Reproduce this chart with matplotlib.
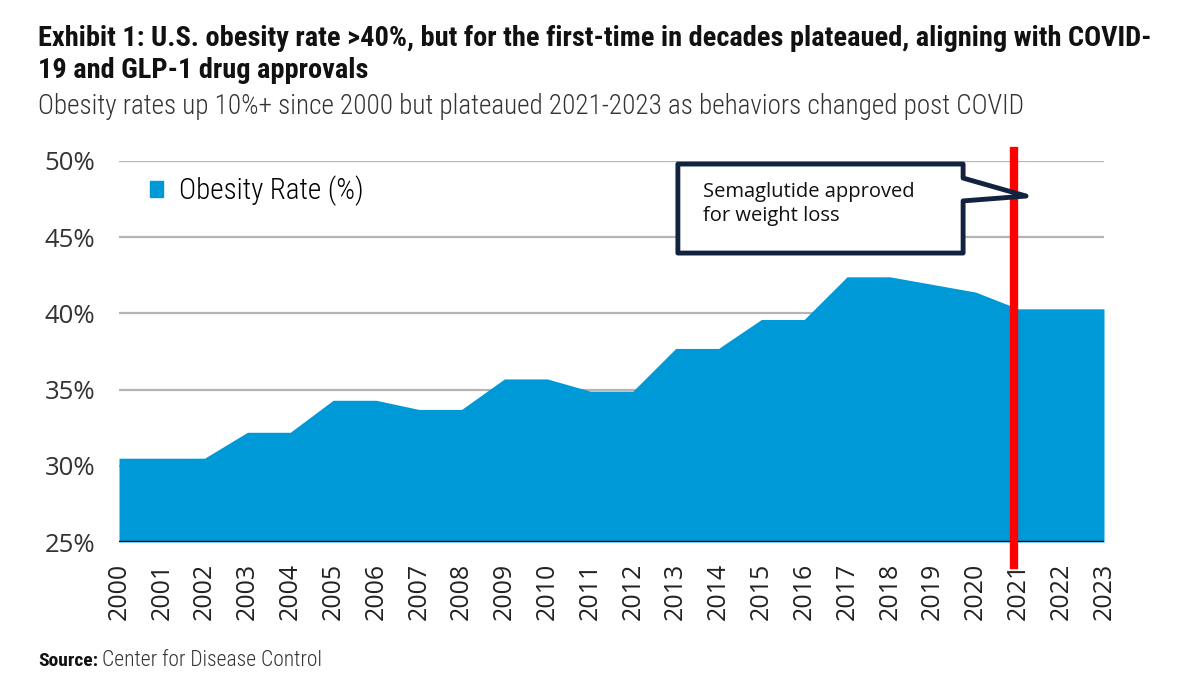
import matplotlib
matplotlib.use("Agg")
import matplotlib.pyplot as plt
from matplotlib import font_manager
from matplotlib.patches import Polygon, Patch

# data
years = list(range(2000, 2024))
obesity_rate = [30.5, 30.5, 30.5, 32.2, 32.2, 34.3, 34.3, 33.7, 33.7, 35.7, 35.7, 34.9,
                34.9, 37.7, 37.7, 39.6, 39.6, 42.4, 42.4, 41.9, 41.4, 40.3, 40.3, 40.3]
y_ticks = [25, 30, 35, 40, 45, 50]
approval_year = 2020.9
series_name = "Obesity Rate (%)"
callout_text = "Semaglutide approved\nfor weight loss"

title = ("Exhibit 1: U.S. obesity rate >40%, but for the first-time in decades plateaued, aligning with COVID-\n"
         "19 and GLP-1 drug approvals")
subtitle = "Obesity rates up 10%+ since 2000 but plateaued 2021-2023 as behaviors changed post COVID"

BLUE = "#0099d8"
NAVY = "#13233f"


def pick(*names):
    for n in names:
        try:
            font_manager.findfont(font_manager.FontProperties(family=n), fallback_to_default=False)
            return n
        except ValueError:
            pass
    return "DejaVu Sans"


narrow = pick("Roboto Condensed", "Liberation Sans Narrow", "Open Sans Condensed", "Roboto")
body = pick("Open Sans", "Noto Sans", "DejaVu Sans")

fig = plt.figure(figsize=(12, 6.75), dpi=100)
ax = fig.add_axes([119 / 1200, 133 / 675, 985 / 1200, 381 / 675])

ax.fill_between(years, obesity_rate, 25, color=BLUE, linewidth=0, zorder=2)
ax.set_xlim(2000, 2023)
ax.set_ylim(25, 50)

ax.set_yticks(y_ticks)
ax.set_yticklabels([f"{v}%" for v in y_ticks], fontsize=18.5, family=body, color="#333333")
ax.set_xticks(years)
ax.set_xticklabels([str(y) for y in years], rotation=90, fontsize=18, family=body, color="#222222")
ax.tick_params(axis="both", length=0)
ax.tick_params(axis="y", pad=17)
ax.tick_params(axis="x", pad=15)

for v in y_ticks[1:]:
    ax.axhline(v, color="#b5b5b5", linewidth=1.6, zorder=1)
ax.axhline(25, color="#111111", linewidth=2.5, zorder=3)

for s in ax.spines.values():
    s.set_visible(False)

# red marker for semaglutide approval
ax.axvline(approval_year, ymin=-0.06, ymax=1.025, color="#ff0000", linewidth=6, zorder=4, clip_on=False)

# legend
ax.legend(handles=[Patch(color=BLUE)], labels=[series_name], loc="upper left",
          bbox_to_anchor=(0.005, 1.03), frameon=False, handlelength=0.45, handleheight=0.45,
          handletextpad=0.55, prop={"family": narrow, "size": 21, "weight": "light"})

# callout box
bx0, bx1 = 2013.05, 2019.71
by0, by1 = 43.96, 49.80
tip = (2021.18, 47.70)
callout = Polygon([(bx0, by1), (bx1, by1), (bx1, 48.88), tip, (bx1, 47.38), (bx1, by0), (bx0, by0)],
                  closed=True, facecolor="white", edgecolor=NAVY, linewidth=3.5, zorder=5,
                  joinstyle="round", clip_on=False)
ax.add_patch(callout)
ax.text(bx0 + 0.58, 48.65, callout_text, fontsize=14.5, family=body, color="#111111",
        va="top", ha="left", linespacing=1.3, zorder=6)

# titles
fig.text(38 / 1200, 1 - 25 / 675, title, fontsize=20.4, fontweight="bold", family=narrow,
         color="#111111", va="top", ha="left", linespacing=1.25)
fig.text(38 / 1200, 1 - 106 / 675, subtitle, fontsize=19.5, fontweight="light", family=narrow,
         color="#333333", va="center", ha="left")

src = fig.text(38 / 1200, 1 - 661 / 675, "Source:", fontsize=14, fontweight="bold", family=narrow,
               color="#111111", va="center", ha="left")
fig.canvas.draw()
src_end = src.get_window_extent().x1 / 1200
fig.text(src_end + 4 / 1200, 1 - 661 / 675, "Center for Disease Control", fontsize=15.5,
         fontweight="light", family=narrow, color="#333333", va="center", ha="left")

fig.savefig("out.png", dpi=100)
